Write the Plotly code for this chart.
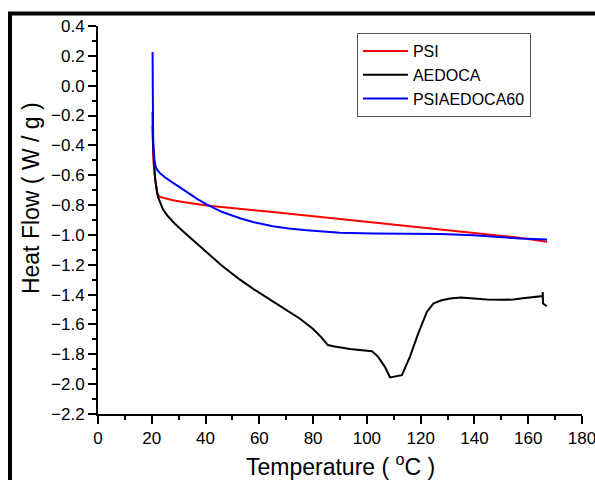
import plotly.graph_objects as go

# ---- data ----
psi_x = [20.3, 20.4, 20.6, 21.0, 21.5, 22.0, 23.0, 25.0, 27.9, 31.0, 34.1, 37.0, 40.4, 46.0, 52.8, 58.0,
         65.0, 71.0, 77.6, 84.0, 90.0, 96.0, 102.4, 109.0, 115.0, 121.0, 127.2, 133.0, 139.6, 144.0,
         149.6, 155.0, 160.0, 164.4, 167.0]
psi_y = [-0.265, -0.37, -0.5, -0.59, -0.68, -0.725, -0.745, -0.755, -0.768, -0.778, -0.787, -0.795, -0.803,
         -0.813, -0.823, -0.835, -0.847, -0.858, -0.87, -0.882, -0.894, -0.905, -0.917, -0.93, -0.942,
         -0.953, -0.964, -0.975, -0.986, -0.994, -1.002, -1.015, -1.028, -1.04, -1.045]

aed_x = [20.3, 20.4, 20.8, 21.3, 22.3, 23.0, 24.2, 26.0, 28.6, 31.6, 34.1, 40.0, 46.0, 52.8, 58.0, 65.0,
         70.0, 75.0, 80.0, 83.0, 85.5, 88.0, 93.7, 98.0, 101.9, 104.2, 106.7, 108.6, 110.5, 113.0, 116.0,
         119.1, 122.3, 124.7, 127.5, 130.9, 135.0, 139.6, 144.6, 150.0, 154.5, 158.0, 162.0, 165.4,
         165.4, 165.5, 166.9]
aed_y = [-0.176, -0.366, -0.5, -0.634, -0.745, -0.78, -0.83, -0.875, -0.925, -0.975, -1.015, -1.11, -1.205,
         -1.3, -1.365, -1.445, -1.5, -1.56, -1.63, -1.685, -1.738, -1.748, -1.764, -1.77, -1.78, -1.817,
         -1.884, -1.955, -1.95, -1.94, -1.817, -1.66, -1.516, -1.46, -1.44, -1.426, -1.42, -1.426,
         -1.433, -1.435, -1.433, -1.425, -1.415, -1.41, -1.382, -1.46, -1.478]

mix_x = [20.3, 20.35, 20.5, 20.7, 21.0, 21.5, 22.0, 23.0, 25.0, 27.8, 31.0, 34.1, 37.0, 40.4, 46.0, 52.8,
         58.0, 65.0, 71.0, 77.6, 84.0, 90.0, 102.4, 115.0, 127.2, 139.6, 149.6, 157.0, 164.4, 167.0]
mix_y = [0.225, -0.18, -0.34, -0.43, -0.5, -0.545, -0.565, -0.585, -0.615, -0.65, -0.69, -0.727, -0.76,
         -0.795, -0.845, -0.888, -0.915, -0.942, -0.957, -0.968, -0.978, -0.986, -0.99, -0.992, -0.993,
         -1.002, -1.017, -1.024, -1.029, -1.03]

names = ["PSI", "AEDOCA", "PSIAEDOCA60"]
colors = ["#ff0000", "#000000", "#0000ff"]

FONT = "Liberation Sans, Arial, sans-serif"

fig = go.Figure()
for nm, xs, ys, c in zip(names, [psi_x, aed_x, mix_x], [psi_y, aed_y, mix_y], colors):
    fig.add_trace(go.Scatter(x=xs, y=ys, mode="lines", name=nm,
                             line=dict(color=c, width=2)))

axis_common = dict(showgrid=False, zeroline=False, showline=True, linecolor="black", linewidth=2,
                   ticks="outside", tickcolor="black", tickwidth=1.5, ticklen=8,
                   tickfont=dict(family=FONT, size=17, color="black"), mirror=False,
                   ticklabeloverflow="allow", automargin=False)

fig.update_xaxes(range=[0, 180], tick0=0, dtick=20,
                 minor=dict(ticks="outside", dtick=10, ticklen=4, tickwidth=1.5, tickcolor="black"),
                 **axis_common)
fig.update_yaxes(range=[-2.2, 0.4], tick0=0, dtick=0.2, tickformat=".1f",
                 minor=dict(ticks="outside", dtick=0.1, ticklen=4, tickwidth=1.5, tickcolor="black"),
                 **axis_common)

fig.update_layout(
    width=595, height=480,
    margin=dict(l=98, r=13, t=26, b=66, autoexpand=False),
    paper_bgcolor="white", plot_bgcolor="white",
    font=dict(family=FONT, color="black"),
    showlegend=True,
    legend=dict(x=0.535, y=0.982, xanchor="left", yanchor="top",
                bordercolor="#555555", borderwidth=1, bgcolor="white",
                font=dict(family=FONT, size=16, color="black"), itemwidth=45),
    annotations=[
        dict(text="Temperature ( <sup>o</sup>C )", xref="paper", yref="paper", x=0.5, y=-0.131,
             xanchor="center", yanchor="middle", showarrow=False,
             font=dict(family=FONT, size=23, color="black")),
        dict(text="Heat Flow ( W / g )", xref="paper", yref="paper", x=-0.138, y=0.557,
             xanchor="center", yanchor="middle", showarrow=False, textangle=-90,
             font=dict(family=FONT, size=23, color="black")),
    ],
    shapes=[
        dict(type="line", xref="paper", yref="paper", x0=(10 - 98) / 484, x1=(10 - 98) / 484,
             y0=(414 - 12) / 388, y1=(414 - 480) / 388, line=dict(color="black", width=4)),
        dict(type="line", xref="paper", yref="paper", x0=(8 - 98) / 484, x1=(595 - 98) / 484,
             y0=(414 - 13.5) / 388, y1=(414 - 13.5) / 388, line=dict(color="black", width=4)),
    ],
)

fig.write_html("out.html")
